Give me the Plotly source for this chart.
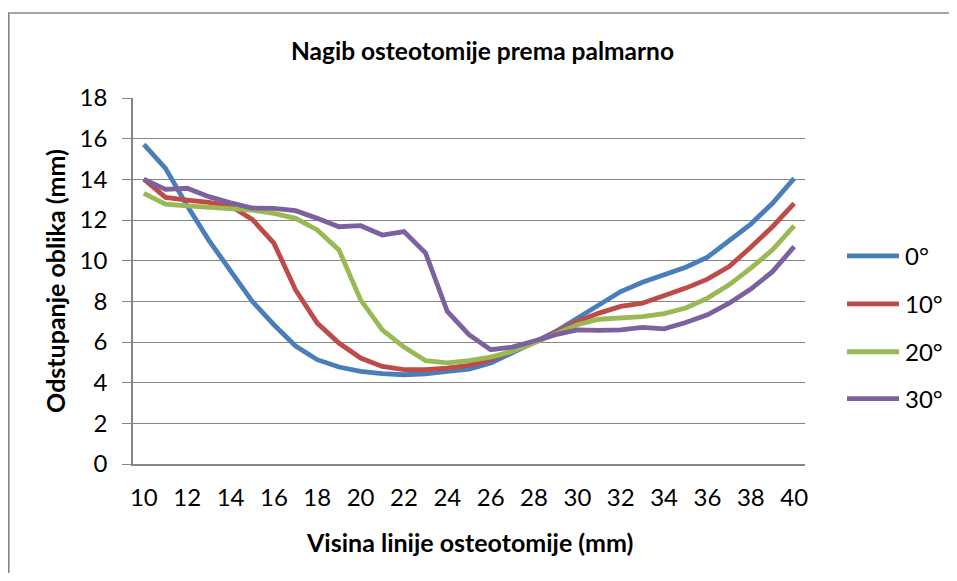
import plotly.graph_objects as go

# ---- data ----
visina = [10, 11, 12, 13, 14, 15, 16, 17, 18, 19, 20, 21, 22, 23, 24, 25,
          26, 27, 28, 29, 30, 31, 32, 33, 34, 35, 36, 37, 38, 39, 40]
s0 = [15.72, 14.54, 12.70, 11.00, 9.50, 8.00, 6.85, 5.80, 5.13, 4.77, 4.56,
      4.44, 4.39, 4.43, 4.56, 4.67, 4.97, 5.46, 5.98, 6.52, 7.17, 7.83, 8.48,
      8.94, 9.28, 9.68, 10.17, 10.99, 11.80, 12.82, 14.05]
s10 = [14.01, 13.11, 12.98, 12.87, 12.69, 12.03, 10.86, 8.56, 6.93, 5.95, 5.21,
       4.80, 4.64, 4.64, 4.72, 4.85, 5.13, 5.54, 5.98, 6.47, 7.01, 7.42, 7.75,
       7.91, 8.25, 8.65, 9.09, 9.71, 10.66, 11.67, 12.82]
s20 = [13.31, 12.78, 12.69, 12.64, 12.59, 12.49, 12.33, 12.08, 11.51, 10.53, 8.07,
       6.60, 5.75, 5.08, 4.97, 5.08, 5.26, 5.54, 5.95, 6.42, 6.85, 7.12, 7.17,
       7.25, 7.40, 7.67, 8.16, 8.81, 9.63, 10.53, 11.71]
s30 = [14.01, 13.51, 13.56, 13.15, 12.85, 12.59, 12.57, 12.46, 12.08, 11.67, 11.72,
       11.26, 11.43, 10.37, 7.50, 6.36, 5.62, 5.75, 6.05, 6.36, 6.60, 6.57, 6.60,
       6.72, 6.65, 6.96, 7.34, 7.91, 8.60, 9.46, 10.69]
series_names = ["0°", "10°", "20°", "30°"]
series_values = [s0, s10, s20, s30]
colors = ["#4A7EBB", "#BE4B48", "#98B954", "#7D60A0"]
x_tick_vals = [10, 12, 14, 16, 18, 20, 22, 24, 26, 28, 30, 32, 34, 36, 38, 40]
y_tick_vals = [0, 2, 4, 6, 8, 10, 12, 14, 16, 18]

title_text = "Nagib osteotomije prema palmarno"
x_title = "Visina linije osteotomije (mm)"
y_title = "Odstupanje oblika (mm)"

FONT = "Lato, 'Open Sans', 'DejaVu Sans', sans-serif"
GRID = "#868686"

OFF = 8  # page body margin of the browser
W, H = 957 - 2 * OFF, 581 - 2 * OFF
# plot area in screen pixels
SL, SR, ST, SB = 133, 805, 97.7, 464.5
L, R, T, B = SL - OFF, SR - OFF, ST - OFF, SB - OFF


def px(xs):
    return (xs - SL) / (SR - SL)


def py(ys):
    return (SB - ys) / (SB - ST)


fig = go.Figure()
for name, vals, col in zip(series_names, series_values, colors):
    fig.add_trace(go.Scatter(x=visina, y=vals, mode="lines", name=name,
                             line=dict(color=col, width=4.8),
                             showlegend=False))

shapes = []
annotations = []

# outer chart border: only its left and top edges are visible in the page
shapes.append(dict(type="line", xref="paper", yref="paper",
                   x0=px(8.8), x1=px(8.8), y0=py(12.5), y1=py(620),
                   line=dict(color=GRID, width=1.6), layer="below"))
shapes.append(dict(type="line", xref="paper", yref="paper",
                   x0=px(8.0), x1=px(1000), y0=py(12.5), y1=py(12.5),
                   line=dict(color=GRID, width=1.6), layer="below"))

# custom legend
legend_y = [256, 304, 352, 399]
for name, col, ly in zip(series_names, colors, legend_y):
    shapes.append(dict(type="line", xref="paper", yref="paper",
                       x0=px(847), x1=px(899), y0=py(ly), y1=py(ly),
                       line=dict(color=col, width=4.8)))
    annotations.append(dict(text=name, xref="paper", yref="paper",
                            x=px(903), y=py(ly), xanchor="left", yanchor="middle",
                            showarrow=False, font=dict(family=FONT, size=24, color="#000")))

# title and axis titles
annotations.append(dict(text="<b>" + title_text + "</b>", xref="paper", yref="paper",
                        x=px(482), y=py(50), xanchor="center", yanchor="middle",
                        showarrow=False, font=dict(family=FONT, size=24.5, color="#000")))
annotations.append(dict(text="<b>" + x_title + "</b>", xref="paper", yref="paper",
                        x=px(469), y=py(543), xanchor="center", yanchor="middle",
                        showarrow=False, font=dict(family=FONT, size=25, color="#000")))
annotations.append(dict(text="<b>" + y_title + "</b>", xref="paper", yref="paper",
                        x=px(55), y=py(281), xanchor="center", yanchor="middle",
                        textangle=-90,
                        showarrow=False, font=dict(family=FONT, size=25, color="#000")))

fig.update_layout(
    width=W, height=H,
    margin=dict(l=L, r=W - R, t=T, b=H - B, pad=0),
    paper_bgcolor="white", plot_bgcolor="white",
    shapes=shapes, annotations=annotations,
    font=dict(family=FONT, size=24, color="#000"),
)
fig.update_xaxes(range=[9.5, 40.5], tickmode="array", tickvals=x_tick_vals,
                 showgrid=False, zeroline=False, showline=True, linecolor=GRID,
                 linewidth=1.5, ticks="", ticklabelstandoff=11,
                 tickfont=dict(family=FONT, size=24, color="#000"))
fig.update_yaxes(range=[0, 18], tickmode="array", tickvals=y_tick_vals,
                 showgrid=True, gridcolor=GRID, gridwidth=1.3, zeroline=False,
                 showline=True, linecolor=GRID, linewidth=1.5,
                 ticks="outside", ticklen=9, tickcolor=GRID, tickwidth=1.3,
                 ticklabelstandoff=10,
                 tickfont=dict(family=FONT, size=24, color="#000"))

fig.write_html("out.html")
